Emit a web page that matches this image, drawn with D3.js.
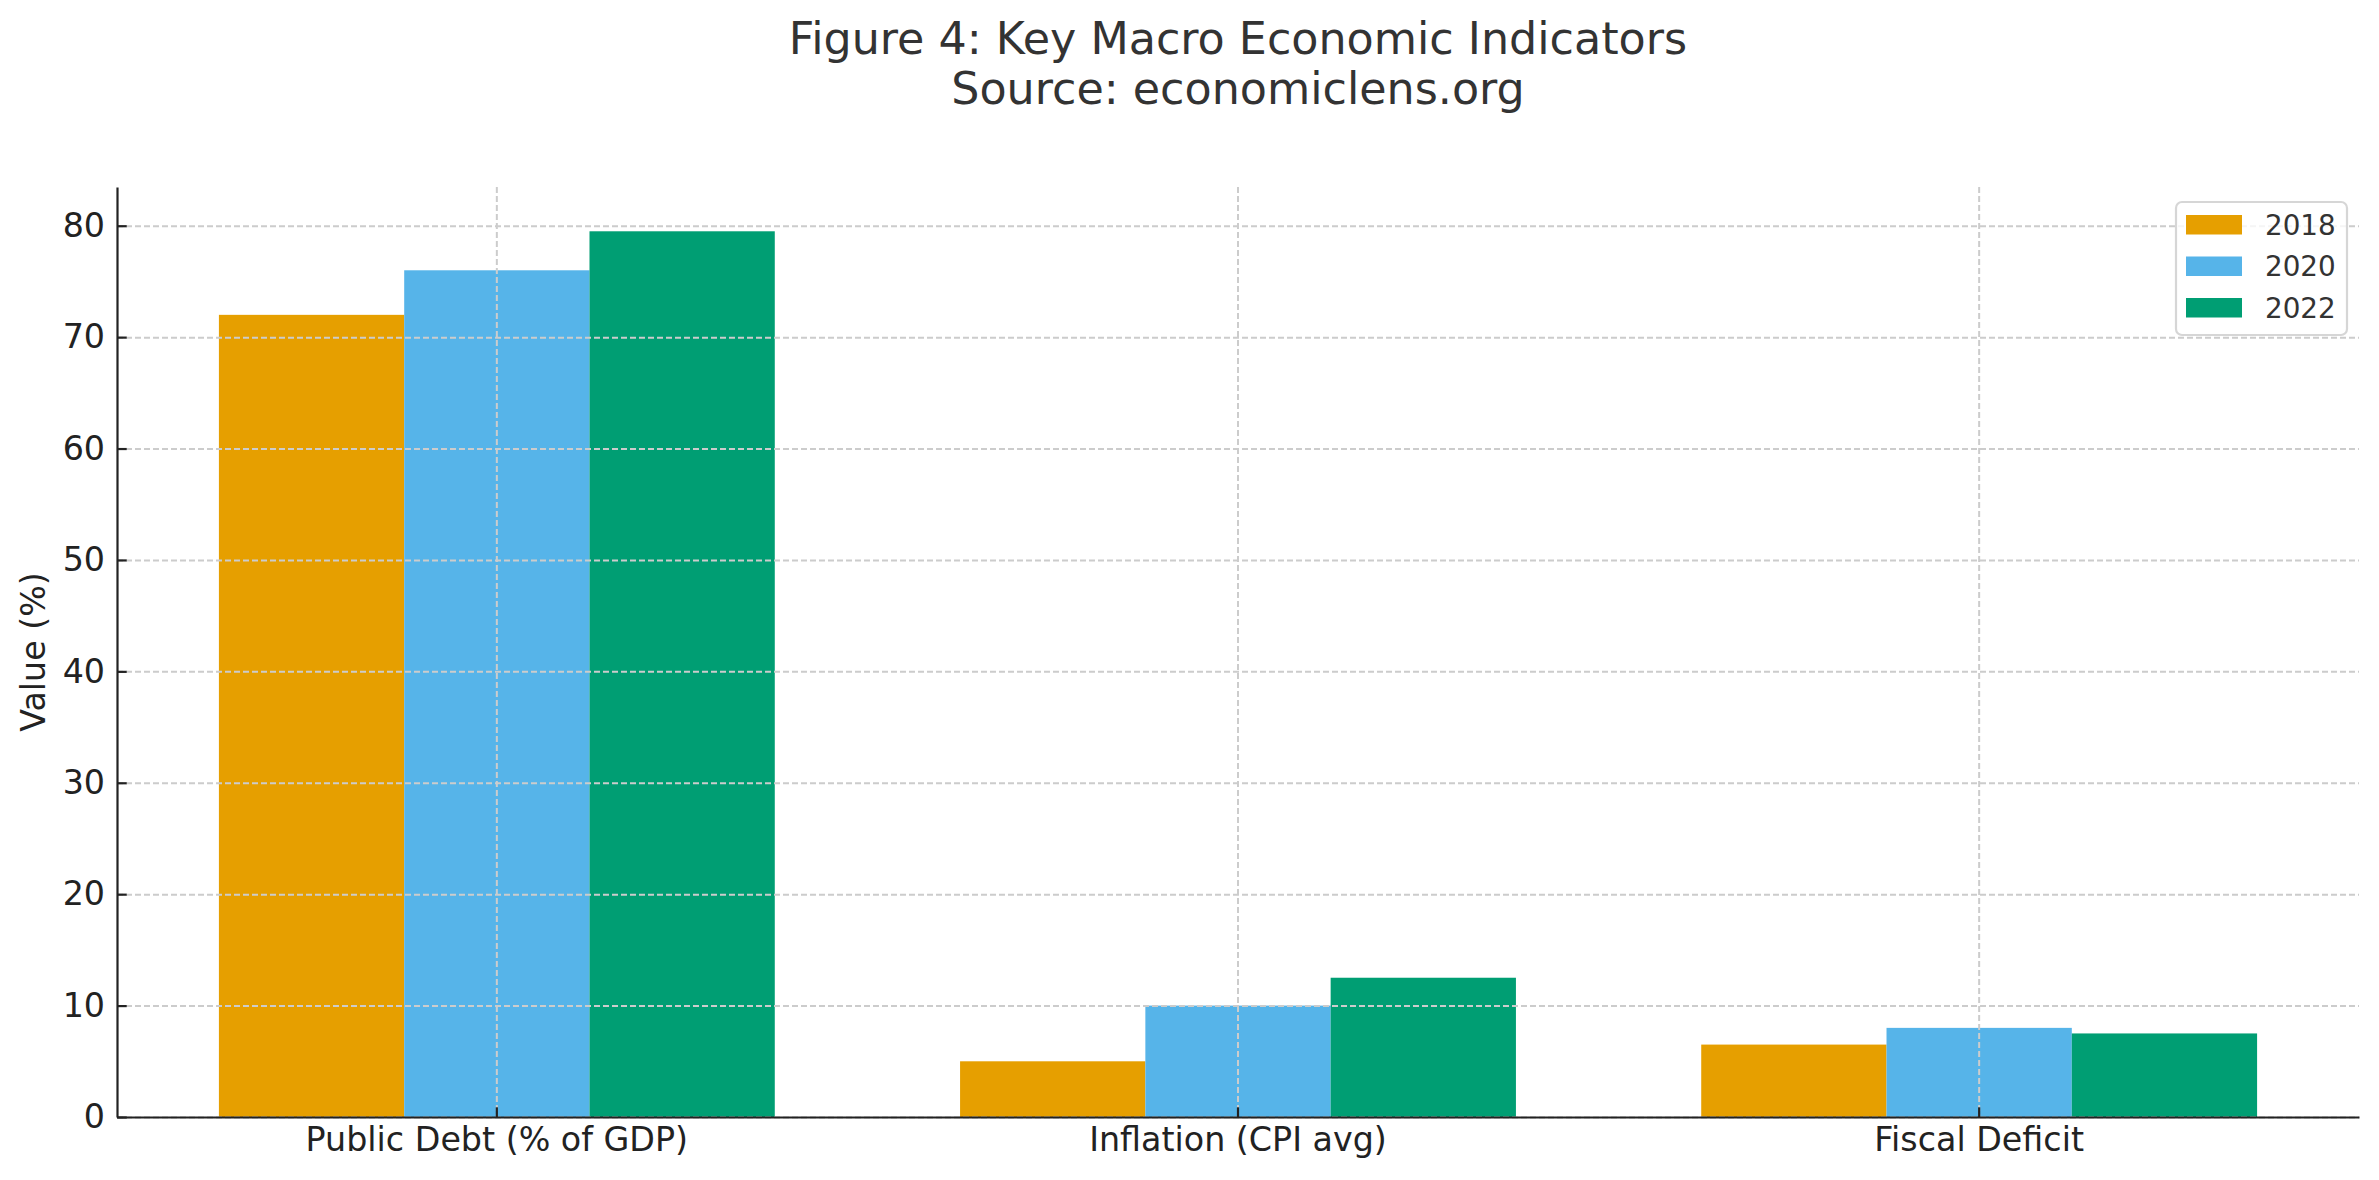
<!DOCTYPE html>
<html>
<head>
<meta charset="utf-8">
<script src="https://cdn.jsdelivr.net/npm/d3@7"></script>
<style>
  body { margin: 0; background: #fff; }
  svg { display: block; font-family: "DejaVu Sans", sans-serif; }
</style>
</head>
<body>
<div id="chart"></div>
<script>
// data
let categories = ["Public Debt (% of GDP)", "Inflation (CPI avg)", "Fiscal Deficit"];
let years = ["2018", "2020", "2022"];
let values2018 = [72, 5, 6.5];
let values2020 = [76, 10, 8];
let values2022 = [79.5, 12.5, 7.5];
let yTicks = [0, 10, 20, 30, 40, 50, 60, 70, 80];
let colors = ["#E69F00", "#56B4E9", "#009E73"];

let series = [values2018, values2020, values2022];

// layout
let width = 2379;
let height = 1180;
let margin = { top: 187, right: 20, bottom: 63, left: 117 };
let plotW = width - margin.left - margin.right;
let plotH = height - margin.top - margin.bottom;

let svg = d3.select("#chart").append("svg")
    .attr("width", width)
    .attr("height", height);

// title
let title = svg.append("text")
    .attr("text-anchor", "middle")
    .attr("fill", "#333")
    .style("font-size", "44.4px");
title.append("tspan").attr("x", margin.left + plotW / 2).attr("y", 54)
    .text("Figure 4: Key Macro Economic Indicators");
title.append("tspan").attr("x", margin.left + plotW / 2).attr("y", 104)
    .text("Source: economiclens.org");

let g = svg.append("g")
    .attr("transform", `translate(${margin.left},${margin.top})`);

// scales
let x0 = d3.scaleBand()
    .domain(categories)
    .range([0, plotW])
    .paddingInner(0.25)
    .paddingOuter(0.1375);

let x1 = d3.scaleBand()
    .domain(years)
    .range([0, x0.bandwidth()]);

let yMax = d3.max(series, s => d3.max(s)) * 1.05;
let y = d3.scaleLinear()
    .domain([0, yMax])
    .range([plotH, 0]);

// bars
let groups = g.selectAll("g.group")
    .data(categories)
    .enter()
    .append("g")
    .attr("class", "group")
    .attr("transform", d => `translate(${x0(d)},0)`);

groups.selectAll("rect")
    .data((d, i) => years.map((yr, j) => ({ yr: yr, v: series[j][i], c: colors[j] })))
    .enter()
    .append("rect")
    .attr("x", d => x1(d.yr))
    .attr("y", d => y(d.v))
    .attr("width", x1.bandwidth())
    .attr("height", d => plotH - y(d.v))
    .attr("fill", d => d.c);

// grid (drawn above bars, like the original)
let gridY = g.append("g")
    .call(d3.axisLeft(y).tickValues(yTicks).tickSize(-plotW).tickFormat(""));
let gridX = g.append("g")
    .call(d3.axisBottom(x0).tickSize(plotH).tickFormat(""));
[gridY, gridX].forEach(function(gr) {
    gr.select(".domain").remove();
    gr.selectAll("line")
        .attr("stroke", "#cccccc")
        .attr("stroke-width", 2)
        .attr("stroke-dasharray", "6,3");
});

// axes
let yAxis = g.append("g")
    .call(d3.axisLeft(y).tickValues(yTicks).tickSizeInner(-9.7).tickSizeOuter(0).tickPadding(12));
let xAxis = g.append("g")
    .attr("transform", `translate(0,${plotH})`)
    .call(d3.axisBottom(x0).tickSizeInner(-9.7).tickSizeOuter(0).tickPadding(10));

[yAxis, xAxis].forEach(function(ax) {
    ax.select(".domain").attr("stroke", "#222").attr("stroke-width", 2.2);
    ax.selectAll(".tick line").attr("stroke", "#222").attr("stroke-width", 2.2);
    ax.selectAll(".tick text")
        .attr("fill", "#222")
        .style("font-size", "33.3px")
        .style("font-family", "DejaVu Sans");
});

// y label
svg.append("text")
    .attr("transform", `translate(45,${margin.top + plotH / 2}) rotate(-90)`)
    .attr("text-anchor", "middle")
    .attr("fill", "#222")
    .style("font-size", "33.3px")
    .text("Value (%)");

// legend
let legend = svg.append("g")
    .attr("transform", "translate(2176,202)");

legend.append("rect")
    .attr("width", 171)
    .attr("height", 133)
    .attr("rx", 6)
    .attr("fill", "#fff")
    .attr("fill-opacity", 0.8)
    .attr("stroke", "#d6d6d6")
    .attr("stroke-width", 2.2);

let items = legend.selectAll("g.item")
    .data(years)
    .enter()
    .append("g")
    .attr("class", "item")
    .attr("transform", (d, i) => `translate(10,${13 + i * 41.5})`);

items.append("rect")
    .attr("width", 56)
    .attr("height", 19.5)
    .attr("fill", (d, i) => colors[i]);

items.append("text")
    .attr("x", 79)
    .attr("y", 19.5)
    .attr("fill", "#333")
    .style("font-size", "27.8px")
    .text(d => d);
</script>
</body>
</html>
